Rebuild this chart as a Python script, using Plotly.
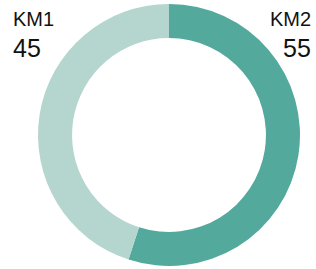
import plotly.graph_objects as go

labels = ["KM2", "KM1"]
values = [55, 45]
colors = ["#52A99C", "#B5D5CF"]

W, H = 316, 269

fig = go.Figure(go.Pie(
    labels=labels, values=values, hole=0.74, sort=False,
    direction="clockwise", rotation=0,
    marker=dict(colors=colors, line=dict(width=0)),
    textinfo="none", hoverinfo="label+value",
    domain=dict(x=[38 / W, 300 / W], y=[3 / H, 265 / H]),
))

font_family = "Liberation Sans, Arial, sans-serif"
anns = []
for lab, val, x, anchor in [("KM1", 45, 11 / W, "left"), ("KM2", 55, 313 / W, "right")]:
    anns.append(dict(text=lab, x=x, y=1 - 19 / H, xref="paper", yref="paper",
                     xanchor=anchor, yanchor="middle", showarrow=False,
                     font=dict(size=20, color="#111111", family=font_family)))
    anns.append(dict(text=str(val), x=x, y=1 - 48 / H, xref="paper", yref="paper",
                     xanchor=anchor, yanchor="middle", showarrow=False,
                     font=dict(size=25, color="#111111", family=font_family)))

fig.update_layout(
    width=W, height=H, margin=dict(l=0, r=0, t=0, b=0),
    showlegend=False, paper_bgcolor="white", plot_bgcolor="white",
    annotations=anns,
)
fig.write_html("out.html", config={"displayModeBar": False},
               post_script="document.body.style.margin='0';document.body.style.overflow='hidden';")
